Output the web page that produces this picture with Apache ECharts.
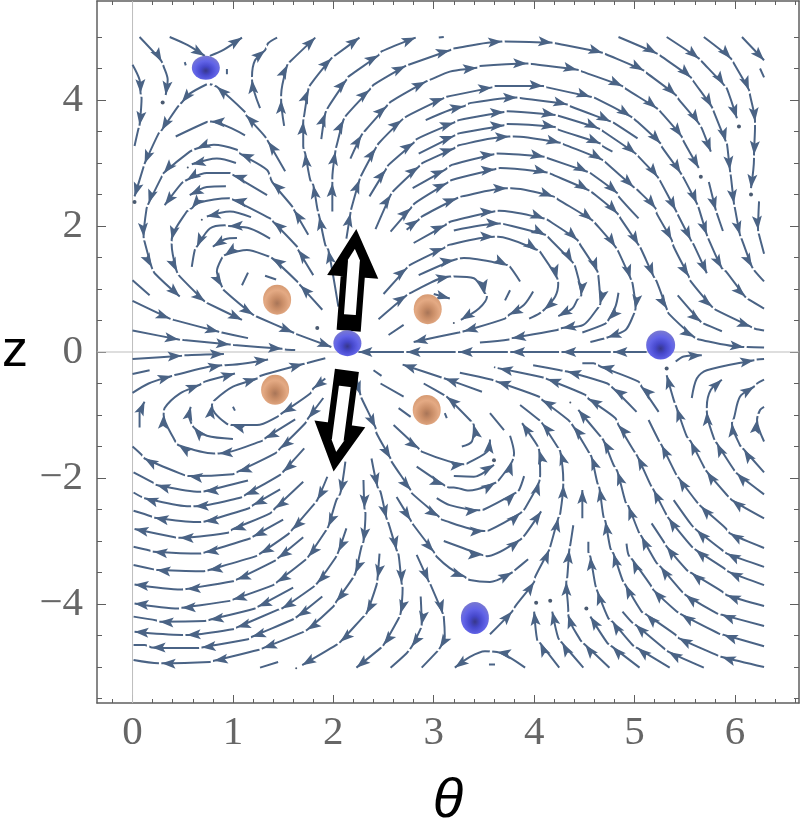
<!DOCTYPE html>
<html><head><meta charset="utf-8">
<script src="https://cdn.jsdelivr.net/npm/echarts@6/dist/echarts.min.js"></script>
<style>html,body{margin:0;padding:0;background:#fff}#c{width:800px;height:826px}</style>
</head><body><div id="c"></div>
<script>
// Each stream: [theta, z] points; a third value 1 marks an arrowhead at that point, and a small gap follows it.
const streamsUpperLeft = [
[[.07,5],[.24,4.71],[.29,4.61,1],[.31,4.53],[.35,4.32],[.33,4.08,1]],
[[.37,5],[.55,4.87],[.72,4.7,1]],
[[.77,4.7],[.91,4.8],[1.09,4.99,1]],
[[0,4.56],[.07,4.32],[.08,4.11,1],[.09,4.03],[.07,3.6,1],[.06,3.55],[.02,3.27]],
[[.74,4.25],[.57,4.1],[.49,3.96,1],[.45,3.89],[.29,3.52,1],[.26,3.47],[.12,2.99,1],[.11,2.94],[.02,2.47,1]],
[[1.52,2.87],[1.35,3.34,1],[1.32,3.42],[1.13,3.76,1],[1.12,3.81],[.84,4.21,1],[.77,4.25]],
[[1.27,3.87],[1.19,4.32,1],[1.19,4.37],[1.22,4.63],[1.32,4.79,1],[1.35,4.9],[1.44,4.99]],
[[1.51,3.59],[1.48,4,1],[1.48,4.08],[1.54,4.55,1],[1.57,4.61],[1.82,4.99,1]],
[[2.05,.72],[1.95,1.62,1],[1.92,1.7],[1.86,2.15,1],[1.84,2.28],[1.8,2.65,1],[1.77,2.73],[1.72,3.15,1],[1.7,3.26],[1.7,3.66,1],[1.71,3.76],[1.75,4.16,1],[1.77,4.24],[1.98,4.66,1],[2.02,4.71],[2.26,4.99,1]],
[[1.88,3.38],[1.92,3.79,1],[1.95,3.89],[2.13,4.32,1],[2.15,4.37],[2.45,4.71,1],[2.48,4.77],[2.82,4.99,1]],
[[3.05,4.99],[3.1,5.0]],
[[0,1.14],[.17,.9]],
[[0,.81],[.37,.53,1],[.41,.51],[.86,.32,1],[.89,.31],[1.15,.22]],
[[0,.34],[.46,.2,1],[.51,.19],[.97,.12,1],[1.01,.11],[1.49,.05,1],[1.52,.04],[1.62,.03]],
[[0,-.11],[.49,-.06,1],[.52,-.05],[.91,-.03,1]],
[[1.89,.67],[1.67,1.06,1],[1.64,1.12],[1.39,1.49,1],[1.35,1.52],[1.14,1.62],[.92,1.54,1],[.89,1.49],[.84,1.28],[.89,1.04,1],[.91,.98],[1.2,.59,1],[1.24,.56],[1.6,.31,1],[1.64,.28],[1.98,.08,1]],
[[1.8,1.22],[1.65,1.62,1],[1.64,1.67],[1.4,2.07,1],[1.37,2.12],[1,2.42,1],[.96,2.44],[.64,2.36],[.59,2.28,1],[.54,2.23],[.39,1.78,1],[.39,1.7],[.44,1.28,1],[.47,1.2],[.72,.8,1],[.74,.78],[1.09,.51,1]],
[[1.75,1.86],[1.61,2.25,1],[1.59,2.31],[1.39,2.7,1],[1.34,2.89],[1.07,3.15,1],[1.04,3.21],[.81,3.29],[.64,3.23,1],[.57,3.18],[.31,2.84,1],[.29,2.78],[.16,2.36,1],[.14,2.28],[.11,1.83,1],[.12,1.75],[.19,1.35,1],[.22,1.25],[.47,.88,1]],
[[1.34,2.49],[1,2.81,1],[.97,2.84],[.74,2.84],[.54,2.73,1],[.49,2.68],[.32,2.33,1]],
[[1.12,3.44],[.78,3.66,1],[.74,3.65],[.43,3.42]],
[[1.03,3],[.84,3.07],[.59,2.98,1]],
[[.93,2.63],[.74,2.62],[.57,2.49,1]],
[[1.18,2.14],[.97,2.23],[.74,2.15,1]],
[[1.37,1.8],[1.17,1.96],[.96,2,1],[.92,2.01],[.77,1.96],[.64,1.67,1],[.62,1.62],[.59,1.35]],
[[1.04,1.81],[.92,1.79],[.8,1.67,1]],
[[1.15,1.26],[1.09,1.06]],
[[1.32,1.21],[1.43,1.15]],
[[.52,4.6],[.53,4.55]],
[[.94,4.49],[.94,4.41]]
];
const streamsUpperRight = [
[[1.99,2.23],[1.99,2.68,1],[1.99,2.76],[2.02,3.18,1],[2.03,3.26],[2.1,3.68,1],[2.13,3.76],[2.36,4.16,1],[2.4,4.24],[2.72,4.54,1],[2.75,4.56],[3.16,4.79,1],[3.21,4.82],[3.68,4.93,1],[3.71,4.93],[4.18,4.91,1],[4.21,4.9],[4.68,4.75,1],[4.71,4.73],[5.09,4.47,1],[5.12,4.43],[5.41,4.08,1],[5.44,4.01],[5.64,3.63,1],[5.67,3.55],[5.76,3.18,1]],
[[2.13,1.8],[2.17,2.2,1],[2.18,2.28],[2.26,2.73,1],[2.28,2.81],[2.42,3.23,1],[2.45,3.31],[2.68,3.68,1],[2.73,3.74],[3.1,4.03,1],[3.13,4.05],[3.58,4.2,1],[3.61,4.22],[4.09,4.22,1],[4.13,4.2],[4.56,4.05,1],[4.61,4.03],[4.96,3.74,1],[5.01,3.68],[5.26,3.31,1],[5.27,3.26],[5.46,2.84,1],[5.49,2.76],[5.62,2.36,1],[5.64,2.28],[5.72,1.86,1],[5.74,1.78],[5.87,1.33,1],[5.91,1.28],[6.1,.88,1],[6.14,.83],[6.29,.69]],
[[2.17,3.07],[2.28,3.44,1],[2.32,3.52],[2.53,3.9,1],[2.57,3.97],[2.92,4.29,1],[2.98,4.33],[3.16,4.45],[3.43,4.51,1],[3.46,4.54],[3.93,4.58,1],[3.98,4.57],[4.43,4.48,1],[4.48,4.45],[4.88,4.22,1],[4.91,4.18],[5.22,3.87,1],[5.26,3.81],[5.47,3.42,1],[5.49,3.34],[5.64,2.92,1]],
[[2.92,3.68],[3.16,3.84],[3.3,3.9,1],[3.36,3.95],[3.83,4.04,1],[3.86,4.03],[4.33,3.93,1],[4.36,3.9],[4.76,3.66,1],[4.79,3.64],[5.03,3.39]],
[[2.36,2.47],[2.52,2.89,1],[2.55,2.97],[2.8,3.32,1],[2.83,3.38],[3.2,3.64,1],[3.25,3.68],[3.7,3.81,1],[3.73,3.82],[4.21,3.76,1],[4.24,3.75],[4.64,3.55,1],[4.69,3.5],[5.01,3.15,1],[5.04,3.1],[5.23,2.78,1],[5.26,2.7],[5.41,2.25,1],[5.44,2.15],[5.56,1.78,1],[5.59,1.7],[5.72,1.25,1]],
[[2.85,3.15],[3.2,3.43,1],[3.25,3.47],[3.7,3.6,1],[3.73,3.62],[4.21,3.57,1],[4.24,3.53],[4.66,3.31,1],[4.68,3.27],[4.78,3.18]],
[[2.42,1.95],[2.57,2.49,1],[2.6,2.56],[2.85,2.94,1],[2.89,3],[3.2,3.23,1],[3.25,3.28],[3.75,3.42,1],[3.8,3.42],[4.26,3.32,1],[4.29,3.3],[4.68,3.05,1],[4.71,3.01],[4.99,2.62,1],[5.03,2.57],[5.21,2.28,1],[5.22,2.2],[5.37,1.78,1],[5.39,1.67],[5.54,1.2,1],[5.56,1.12],[5.77,.72,1],[5.81,.67],[6.16,.4,1],[6.2,.37],[6.29,.34]],
[[2.79,2.6],[3.11,2.89,1],[3.18,2.97],[3.6,3.14,1],[3.63,3.15],[4.1,3.1,1],[4.13,3.08],[4.53,2.86,1],[4.56,2.84],[4.83,2.52,1],[4.84,2.47],[5.04,2.12]],
[[2.57,1.91],[2.77,2.28,1],[2.81,2.36],[3.13,2.68,1],[3.18,2.73],[3.61,2.9,1],[3.66,2.92],[4.13,2.85,1],[4.16,2.83],[4.54,2.57,1],[4.58,2.53],[4.83,2.2,1],[4.86,2.12],[5.04,1.7,1],[5.06,1.65],[5.19,1.2,1],[5.22,1.12],[5.32,.69,1],[5.34,.61],[5.59,.24,1],[5.64,.2],[6.09,.08,1],[6.12,.08],[6.29,.07]],
[[2.73,1.94],[2.85,2.1,1],[2.88,2.15],[3.23,2.44,1],[3.28,2.47],[3.73,2.6,1],[3.77,2.6],[4.19,2.47,1],[4.24,2.42],[4.58,2.09,1],[4.61,2.04],[4.81,1.67,1],[4.84,1.59],[4.96,1.17,1],[4.98,1.09],[5.01,.69,1],[4.99,.59],[4.91,.35],[4.73,.23,1],[4.69,.21],[4.56,.16]],
[[2.8,1.73],[3.11,2.01,1],[3.17,2.07],[3.6,2.23,1],[3.65,2.24],[4.1,2.12,1],[4.13,2.1],[4.43,1.78,1],[4.46,1.7],[4.63,1.28,1],[4.64,1.2],[4.66,.77,1],[4.63,.69],[4.49,.43],[4.28,.38,1],[4.23,.35],[3.78,.22,1],[3.75,.2],[3.46,.15]],
[[3.2,1.93],[3.66,2.04,1],[3.7,2.03],[4.11,1.86,1],[4.14,1.82],[4.38,1.43,1],[4.41,1.35],[4.47,.9,1],[4.43,.83],[4.38,.69],[4.24,.57,1]],
[[4.84,.94],[4.81,.72],[4.74,.51,1],[4.71,.45],[4.48,.31]],
[[2.5,.92],[2.73,1.33,1],[2.76,1.38],[3.1,1.65,1],[3.15,1.7],[3.6,1.83,1],[3.64,1.83],[4.03,1.62,1],[4.06,1.59],[4.23,1.17,1],[4.24,1.09],[4.21,.88],[4.1,.67,1],[4.05,.61],[3.95,.53]],
[[2.85,1.22],[3.2,1.46,1],[3.3,1.49],[3.73,1.38,1],[3.76,1.35],[3.86,1.12]],
[[2.45,.52],[2.73,.9,1],[2.76,.93],[3.16,1.2,1],[3.21,1.2],[3.4,1.17],[3.51,.93,1],[3.53,.88],[3.45,.69],[3.27,.51,1]],
[[3.76,.98],[3.71,.82]],
[[3.99,.96],[3.9,.75],[3.75,.59,1],[3.71,.53],[3.3,.33,1],[3.25,.31],[2.8,.16,1]],
[[5.12,0],[4.79,0,1],[4.76,0],[4.28,0,1],[4.24,0],[3.77,0,1],[3.73,0],[3.25,0,1],[3.21,0],[2.73,0,1],[2.7,0],[2.25,0,1]],
[[2.55,.27],[2.7,.43]],
[[3,.92],[3.16,.85,1]],
[[4.84,5],[5.22,4.74,1],[5.26,4.7],[5.56,4.36,1],[5.59,4.29],[5.77,3.89,1],[5.79,3.81],[5.91,3.34,1],[5.92,3.31],[5.95,2.89,1],[5.96,2.78],[5.99,2.36,1],[6,2.28],[6.05,1.86,1],[6.07,1.78],[6.17,1.35,1],[6.2,1.28],[6.29,1.12]],
[[5.32,5],[5.64,4.66,1],[5.67,4.61],[5.89,4.24,1],[5.92,4.18],[6.02,3.71,1]],
[[5.69,5],[5.96,4.66,1],[5.99,4.58],[6.14,4.16,1],[6.15,4.08],[6.2,3.66,1],[6.2,3.58],[6.19,3.13,1],[6.19,3.07],[6.16,2.6,1]],
[[6.07,5],[6.29,4.63,1]],
[[6.25,4.5],[6.29,4.36]],
[[5.74,2.7],[5.81,2.25,1],[5.82,2.2],[5.88,1.92]],
[[5.43,.9],[5.66,.48,1],[5.69,.45],[5.87,.33]],
[[6.24,2.39],[6.23,1.94,1],[6.24,1.86],[6.29,1.56]]
];
const streamsLowerLeft = [
[[0,-.35],[.17,-.29]],
[[0,-.65],[.16,-.5],[.39,-.38,1],[.42,-.365],[.89,-.21,1],[.92,-.21],[1.35,-.12,1]],
[[.07,-1.2],[.07,-.97],[.12,-.79,1]],
[[1,-1.38],[.74,-1.33],[.61,-1.2,1],[.58,-1.11],[.56,-1],[.58,-.87,1]],
[[1.92,-.42],[1.8,-.58,1],[1.77,-.66],[1.49,-.97,1],[1.44,-1.03],[1.24,-1.16],[.99,-1.16,1],[.94,-1.14],[.82,-.97],[.79,-.84,1],[.82,-.76],[1,-.55],[1.24,-.42,1],[1.27,-.38],[1.7,-.19,1],[1.75,-.17],[1.92,-.1]],
[[1.62,-1.07],[1.32,-1.37,1],[1.29,-1.41],[.86,-1.61,1],[.81,-1.61],[.46,-1.48,1],[.42,-1.4],[.31,-1,1],[.32,-.89],[.47,-.66],[.67,-.52,1],[.72,-.47],[1.02,-.34,1]],
[[1.9,-.73],[1.75,-1.05,1],[1.72,-1.13],[1.47,-1.53,1],[1.42,-1.61],[1.05,-1.9,1],[1,-1.94],[.56,-1.97,1],[.51,-1.95],[.12,-1.69,1],[.09,-1.63],[0,-1.5]],
[[1.71,-1.53],[1.5,-1.9,1],[1.47,-1.95],[1.12,-2.27,1],[1.08,-2.31],[.62,-2.45,1],[.57,-2.45],[.12,-2.32,1],[.09,-2.3],[.01,-2.23]],
[[1.15,-2.04],[.72,-2.21,1],[.67,-2.22],[.24,-2.11,1],[.2,-2.07],[.01,-1.91]],
[[1.47,-2.18],[1.2,-2.43,1],[1.16,-2.48],[.72,-2.69,1],[.67,-2.7],[.22,-2.63,1],[.19,-2.61],[.01,-2.52]],
[[1.7,-2.06],[1.42,-2.48,1],[1.37,-2.56],[.99,-2.82,1],[.95,-2.87],[.47,-2.95,1],[.42,-2.94],[.02,-2.81,1]],
[[1.5,-2.66],[1.2,-2.93,1],[1.17,-2.96],[.72,-3.18,1],[.67,-3.2],[.21,-3.17,1],[.17,-3.15],[.01,-3.09]],
[[1.94,-1.98],[1.84,-2.35,1],[1.8,-2.43],[1.59,-2.82,1],[1.55,-2.89],[1.27,-3.2,1],[1.23,-3.24],[.76,-3.46,1],[.71,-3.48],[.24,-3.46,1],[.21,-3.45],[.01,-3.38]],
[[1.7,-2.94],[1.45,-3.27,1],[1.42,-3.31],[1.04,-3.61,1],[1,-3.64],[.54,-3.76,1],[.49,-3.77],[.02,-3.69,1]],
[[2.12,-1.74],[2.07,-2.24,1],[2.03,-2.35],[1.95,-2.77,1],[1.92,-2.85],[1.75,-3.25,1],[1.72,-3.3],[1.44,-3.65,1],[1.4,-3.7],[1,-3.93,1],[.97,-3.95],[.49,-4.06,1],[.46,-4.07],[.02,-3.99,1]],
[[1.6,-3.74],[1.25,-4.04,1],[1.22,-4.07],[.77,-4.25,1],[.72,-4.27],[.27,-4.28,1],[.24,-4.26],[.01,-4.2]],
[[2.13,-2.8],[2.05,-3.17,1],[2.02,-3.27],[1.84,-3.67,1],[1.8,-3.73],[1.49,-4.07,1],[1.45,-4.09],[1.04,-4.37,1],[1,-4.4],[.54,-4.49,1],[.49,-4.49],[.02,-4.44,1]],
[[1.89,-3.88],[1.64,-4.2,1],[1.59,-4.25],[1.19,-4.52,1],[1.15,-4.56],[.69,-4.69,1],[.66,-4.7],[.19,-4.69,1],[.12,-4.65],[.01,-4.65]],
[[2.3,-2.03],[2.31,-2.48,1],[2.32,-2.56],[2.3,-3.01,1],[2.28,-3.09],[2.22,-3.51,1],[2.18,-3.62],[2.03,-3.96,1],[2,-4.04],[1.74,-4.41,1],[1.69,-4.45],[1.3,-4.7,1],[1.25,-4.73],[.81,-4.9,1],[.77,-4.92],[.29,-4.94,1],[.26,-4.94],[.01,-4.89]],
[[2.46,-3.2],[2.44,-3.59,1],[2.43,-3.7],[2.33,-4.15,1],[2.3,-4.2],[2.07,-4.6,1],[2.03,-4.65],[1.69,-4.97,1]],
[[1.45,-4.92],[1.27,-5.01]],
[[2.38,-1.69],[2.44,-2.14,1],[2.47,-2.22],[2.53,-2.64,1],[2.55,-2.72],[2.63,-3.14,1],[2.65,-3.22],[2.68,-3.67,1],[2.69,-3.75],[2.67,-4.15,1],[2.65,-4.23],[2.5,-4.65,1],[2.47,-4.7],[2.23,-5.01,1]],
[[2.87,-3.88],[2.88,-4.33,1],[2.87,-4.39],[2.78,-4.68,1],[2.73,-4.78],[2.57,-5.01]],
[[2.83,-3.22],[2.95,-3.64,1],[2.97,-3.7],[3.09,-4.15,1],[3.1,-4.2],[3.11,-4.52],[3.06,-4.7,1],[3.03,-4.76],[2.88,-5.01]],
[[1,-.87],[1.02,-.93]]
];
const streamsLowerRight = [
[[2.23,-.42],[2.27,-.68,1],[2.28,-.73],[2.42,-1.2,1],[2.43,-1.29],[2.57,-1.69,1],[2.58,-1.74],[2.77,-2.19,1],[2.78,-2.24],[3.05,-2.61,1],[3.08,-2.66],[3.5,-2.84,1],[3.55,-2.83],[3.86,-2.56,1],[3.91,-2.48],[4.05,-2.06,1],[4.06,-1.95],[4.05,-1.56,1],[4.03,-1.48],[3.88,-1.13,1]],
[[2.4,-.29],[2.48,-.38]],
[[2.47,-.5],[2.7,-.71]],
[[2.65,-.89],[2.77,-1.03]],
[[3.11,-.97],[3.13,-1.05]],
[[2.6,-1.16],[2.85,-1.53,1],[2.88,-1.58],[3.16,-1.74],[3.3,-1.78,1],[3.33,-1.77],[3.55,-1.55],[3.56,-1.39,1]],
[[2.83,-1.82],[3.1,-2.11,1],[3.15,-2.15],[3.2,-2.15],[3.35,-2.2],[3.61,-2.08,1],[3.65,-2.03],[3.78,-1.74,1],[3.8,-1.61],[3.76,-1.33]],
[[3.03,-2.32],[3.16,-2.43],[3.45,-2.51,1],[3.5,-2.5],[3.81,-2.24,1],[3.85,-2.19],[3.9,-1.97]],
[[3.2,-1.97],[3.4,-1.98],[3.6,-1.79,1]],
[[2.63,-2.3],[2.77,-2.67,1],[2.8,-2.75],[3,-3.17,1],[3.03,-3.25],[3.16,-3.43],[3.31,-3.57,1],[3.36,-3.62],[3.56,-3.65],[3.78,-3.5,1],[3.81,-3.46],[3.94,-3.29]],
[[3.1,-3],[3.48,-3.22,1],[3.53,-3.24],[3.86,-2.98,1],[3.91,-2.9],[4.07,-2.53,1]],
[[3.28,-1.5],[3.38,-1.42],[3.4,-1.16,1],[3.36,-1.08],[3.13,-.71,1],[3.1,-.68],[2.9,-.5]],
[[3.48,-.63],[3.11,-.42,1],[3.07,-.4],[2.69,-.2,1]],
[[6.29,-5],[5.87,-4.84,1],[5.82,-4.81],[5.44,-4.54,1],[5.41,-4.49],[5.12,-4.17,1],[5.07,-4.12],[4.91,-3.7,1],[4.88,-3.62],[4.79,-3.2,1],[4.76,-3.12],[4.71,-2.69,1],[4.69,-2.61],[4.65,-2.16,1],[4.63,-2.08],[4.57,-1.66,1],[4.54,-1.58],[4.39,-1.18,1],[4.34,-1.08],[4.08,-.76,1],[4.05,-.71],[3.63,-.47,1],[3.58,-.44],[3.26,-.33]],
[[4.25,-5.01],[4.06,-4.62,1],[4.03,-4.57],[4,-4.12,1]],
[[4.49,-5.01],[4.28,-4.62,1],[4.24,-4.54],[4.18,-4.12,1]],
[[4.75,-5.01],[4.51,-4.65,1],[4.46,-4.57],[4.34,-4.17,1],[4.34,-4.12],[4.32,-3.65,1],[4.33,-3.57],[4.35,-3.14,1],[4.36,-3.06],[4.39,-2.75]],
[[5.05,-5.01],[4.78,-4.68,1],[4.73,-4.62],[4.56,-4.2,1]],
[[5.35,-5.01],[5.03,-4.7,1],[4.98,-4.65],[4.78,-4.28,1],[4.74,-4.23],[4.63,-3.8,1],[4.61,-3.7],[4.56,-3.25,1],[4.54,-3.17],[4.54,-3.01]],
[[5.69,-5.01],[5.34,-4.76,1],[5.29,-4.7],[5.01,-4.33,1],[4.98,-4.3],[4.88,-4.12]],
[[6.29,-4.67],[5.89,-4.49,1],[5.84,-4.47],[5.47,-4.17,1],[5.42,-4.12],[5.19,-3.78,1],[5.16,-3.7],[4.98,-3.3,1],[4.94,-3.22],[4.92,-3.04]],
[[6.29,-4.35],[5.87,-4.17,1],[5.82,-4.15],[5.51,-3.86,1],[5.47,-3.8],[5.26,-3.41,1],[5.22,-3.35],[5.07,-2.93,1],[5.04,-2.85],[4.94,-2.45,1],[4.91,-2.38],[4.83,-1.9,1],[4.79,-1.79],[4.69,-1.4,1],[4.65,-1.32],[4.44,-.92,1]],
[[6.29,-4.03],[5.92,-3.86,1],[5.87,-3.8],[5.57,-3.51,1],[5.52,-3.46],[5.32,-3.09,1],[5.29,-3.01],[5.17,-2.72]],
[[6.29,-3.7],[5.94,-3.49,1],[5.89,-3.43],[5.61,-3.14,1],[5.57,-3.09],[5.34,-2.64,1],[5.31,-2.56],[5.19,-2.19,1],[5.16,-2.11],[5.03,-1.66,1],[4.99,-1.56],[4.84,-1.16,1],[4.81,-1.05],[4.54,-.74,1],[4.51,-.68],[4.13,-.43,1],[4.08,-.4],[3.65,-.26,1],[3.6,-.24]],
[[6.29,-3.41],[5.92,-3.2,1],[5.87,-3.14],[5.62,-2.83,1],[5.57,-2.75],[5.39,-2.35]],
[[6.29,-3.11],[5.95,-2.88,1],[5.91,-2.8],[5.66,-2.45,1],[5.62,-2.38],[5.44,-2,1],[5.41,-1.93],[5.27,-1.48,1],[5.24,-1.4],[5.14,-1.08]],
[[6.29,-2.64],[5.97,-2.35,1],[5.92,-2.27],[5.72,-1.9,1],[5.69,-1.82],[5.56,-1.42,1],[5.52,-1.34],[5.42,-.89,1],[5.39,-.76],[5.32,-.37,1]],
[[6.29,-2.26],[6.02,-1.93,1],[5.99,-1.87],[5.82,-1.45,1],[5.79,-1.37],[5.72,-.95,1],[5.72,-.87],[5.76,-.6],[5.87,-.44,1]],
[[6.29,-1.91],[6.09,-1.55,1],[6.05,-1.48],[5.97,-1.13,1],[5.99,-1.05],[6.05,-.71],[6.19,-.55,1],[6.22,-.5],[6.29,-.44]],
[[6.29,-1.42],[6.22,-1.08,1],[6.25,-.92],[6.29,-.87]],
[[5.57,-.73],[5.62,-.42],[5.72,-.29],[6.19,-.13,1],[6.22,-.12],[6.29,-.11]],
[[5.41,-.15],[5.49,-.07],[5.67,-.05,1]],
[[5.24,-.95],[5.07,-.55,1],[5.04,-.47],[4.66,-.23,1],[4.59,-.18],[4.48,-.18]],
[[5.02,-.95],[4.79,-.58,1],[4.73,-.5],[4.33,-.31,1],[4.26,-.29],[3.99,-.21]],
[[3.56,-4.48],[3.78,-4.12,1],[3.81,-4.04],[4,-3.65,1],[4.01,-3.57],[4.15,-3.14,1],[4.16,-3.09],[4.24,-2.64,1],[4.26,-2.56],[4.29,-2.11,1],[4.29,-2.03],[4.26,-1.58,1],[4.23,-1.5],[4.08,-1.13,1],[4.05,-1.08],[3.86,-.84]],
[[3.91,-5.01],[3.63,-4.76,1],[3.51,-4.75],[3.36,-4.84],[3.21,-5.01,1]],
[[3.7,-1.24],[3.56,-.97]],
[[4.48,-2.64],[4.48,-2.19,1]],
[[3.55,-4.96],[3.61,-4.96]]
];
const seedDots = [[.3,3.96],[.02,2.38],[1.84,.38],[6.04,3.58],[5.66,2.78],[6.16,2.5],[3.6,-1.72],[4.02,-3.98],[4.16,-3.95],[4.52,-4.07],[5.32,-.26]];
const tinySeedDots = [[.55,2.93],[.69,2.1],[3.2,.46],[1.63,-5.02],[4.36,-.8]];
const blueSpheres = [[.73,4.51],[2.14,.14],[5.26,.11],[3.41,-4.22]];
const blueSphereSizes = [[28,24],[28,26],[29,29],[28,32]];
const orangeSpheres = [[1.44,.83],[2.94,.68],[1.42,-.6],[2.93,-.92]];
const blackArrows = [[2.19,1.13,-4.3],[2.07,-1.08,172.5]];
const xMajorTicks = [0,1,2,3,4,5,6];
const xMinorTicks = [-.2,.2,.4,.6,.8,1.2,1.4,1.6,1.8,2.2,2.4,2.6,2.8,3.2,3.4,3.6,3.8,4.2,4.4,4.6,4.8,5.2,5.4,5.6,5.8,6.2,6.4,6.6];
const yMajorTicks = [-4,-2,0,2,4];
const yMinorTicks = [-5.5,-5,-4.5,-3.5,-3,-2.5,-1.5,-1,-.5,.5,1,1.5,2.5,3,3.5,4.5,5];
const xRange = [-.354,6.638];
const yRange = [-5.571,5.571];

const W=800,H=826;
const grid = {left:97,right:1,top:1,bottom:123,outerBoundsMode:'none'};
const pxX = (W-grid.left-grid.right)/(xRange[1]-xRange[0]);
const pxY = (H-grid.top-grid.bottom)/(yRange[1]-yRange[0]);
const lineData=[], arrowData=[], gapData=[];
const COLOR='#4a6385', ARROW_LEN=14;
function unit(a,b){
  const dx=(b[0]-a[0])*pxX, dy=(b[1]-a[1])*pxY, len=Math.hypot(dx,dy)||1;
  return [dx/len,dy/len];
}
[streamsUpperLeft,streamsUpperRight,streamsLowerLeft,streamsLowerRight].forEach(group=>group.forEach(s=>{
  s.forEach((p,i)=>{
    lineData.push([p[0],p[1]]);
    if(p[2]===1 && i>0){
      const into=unit(s[i-1],p);
      const out=(s[i+2])?unit(s[i+1],s[i+2]):into;
      const ux=into[0]*.6+out[0]*.4, uy=into[1]*.6+out[1]*.4, len=Math.hypot(ux,uy)||1;
      const dx=ux/len, dy=uy/len, rot=Math.atan2(-dx,dy)*180/Math.PI;
      arrowData.push({value:[p[0]-dx*ARROW_LEN/2/pxX,p[1]-dy*ARROW_LEN/2/pxY],symbolRotate:rot});
      if(s[i+1]) gapData.push({value:[(p[0]+s[i+1][0])/2,(p[1]+s[i+1][1])/2],symbolRotate:rot});
    }
  });
  lineData.push(['-','-']);
}));

function sideAxis(dim,position,range,ticks,isMajor,showLabel){
  return {type:'value',position,min:range[0],max:range[1],scale:true,
    axisLine:{show:isMajor,onZero:false,lineStyle:{color:'#5f5f5f',width:1.5}},
    axisTick:{show:true,inside:true,customValues:ticks,length:dim==='x'?(isMajor?8:4):(isMajor?9:5),lineStyle:{color:'#5f5f5f',width:1}},
    axisLabel:showLabel?{show:true,customValues:ticks,margin:dim==='x'?10:14,color:'#666',fontFamily:'Liberation Serif',fontSize:41,
      formatter:v=>String(v).replace('-','\u2212')}:{show:false},
    splitLine:{show:false},minorTick:{show:false}};
}
const xAxes=[
  Object.assign(sideAxis('x','bottom',xRange,xMajorTicks,true,true),{name:'θ',nameLocation:'middle',nameGap:70,
    nameTextStyle:{color:'#000',fontSize:56,fontStyle:'italic',fontFamily:'Liberation Sans'}}),
  sideAxis('x','bottom',xRange,xMinorTicks,false,false),
  sideAxis('x','top',xRange,xMajorTicks,true,false),
  sideAxis('x','top',xRange,xMinorTicks,false,false)];
const yAxes=[
  Object.assign(sideAxis('y','left',yRange,yMajorTicks,true,true),{name:'z',nameLocation:'middle',nameGap:69,nameRotate:0,
    nameTextStyle:{color:'#000',fontSize:52,fontFamily:'Liberation Sans'}}),
  sideAxis('y','left',yRange,yMinorTicks,false,false),
  sideAxis('y','right',yRange,yMajorTicks,true,false),
  sideAxis('y','right',yRange,yMinorTicks,false,false)];

const sphere=(stops)=>({type:'radial',x:.5,y:.62,r:.62,colorStops:stops});
const blueFill=sphere([{offset:0,color:'#37378a'},{offset:.3,color:'#4648cc'},{offset:.65,color:'#6264e8'},{offset:1,color:'#7a7ad0'}]);
const orangeFill=sphere([{offset:0,color:'#a87558'},{offset:.3,color:'#c88c66'},{offset:.7,color:'#e4aa84'},{offset:1,color:'#d69a72'}]);
const ARROW_PATH='path://M5,0 L10,14 L5,11 L0,14 Z';
const BIG_ARROW='path://M16,0 L32,30 L25,30 L25,84 L7,84 L7,30 L0,30 Z';

const chart=echarts.init(document.getElementById('c'),null,{renderer:'canvas'});
chart.setOption({
  animation:false,backgroundColor:'#fff',grid,
  xAxis:xAxes,yAxis:yAxes,
  series:[
    {type:'line',data:[[xRange[0],0],[xRange[1],0]],symbol:'none',silent:true,lineStyle:{color:'#bdbdbd',width:1},z:1},
    {type:'line',data:[[0,yRange[0]],[0,yRange[1]]],symbol:'none',silent:true,lineStyle:{color:'#bdbdbd',width:1},z:1},
    {type:'line',data:lineData,symbol:'none',silent:true,smooth:.3,connectNulls:false,lineStyle:{color:COLOR,width:2},z:2},
    {type:'scatter',data:gapData,symbol:'rect',symbolSize:[5,2.4],silent:true,itemStyle:{color:'#fff',opacity:1},z:3},
    {type:'scatter',data:arrowData,symbol:ARROW_PATH,symbolSize:[10,ARROW_LEN],silent:true,itemStyle:{color:COLOR,opacity:1},z:4},
    {type:'scatter',data:seedDots,symbol:'circle',symbolSize:4,silent:true,itemStyle:{color:'#4a5a70',opacity:1},z:4},
    {type:'scatter',data:tinySeedDots,symbol:'circle',symbolSize:2,silent:true,itemStyle:{color:'#4a5a70',opacity:1},z:4},
    {type:'scatter',data:blackArrows.map(a=>({value:[a[0],a[1]],symbolRotate:a[2]})),symbol:BIG_ARROW,symbolSize:[32,84],silent:true,
      itemStyle:{color:'#fff',borderColor:'#000',borderWidth:10,opacity:1},z:5},
    {type:'scatter',data:blueSpheres.map((p,i)=>({value:p,symbolSize:blueSphereSizes[i]})),symbol:'circle',silent:true,itemStyle:{color:blueFill,opacity:1},z:6},
    {type:'scatter',data:orangeSpheres,symbol:'circle',symbolSize:[28,30],silent:true,itemStyle:{color:orangeFill,opacity:1},z:6}
  ]
});
</script></body></html>
